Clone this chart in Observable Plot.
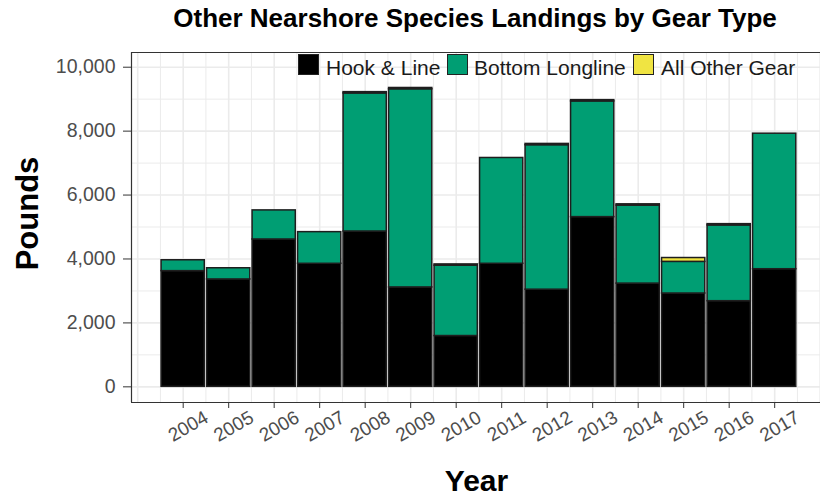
<!DOCTYPE html>
<html>
<head>
<meta charset="utf-8">
<script src="https://cdn.jsdelivr.net/npm/d3@7"></script>
<script src="https://cdn.jsdelivr.net/npm/@observablehq/plot@0.6"></script>
<style>
  body { margin: 0; background: #fff; font-family: "Liberation Sans", Arial, sans-serif; }
  #wrap { position: relative; width: 820px; height: 501px; overflow: hidden; }
  #title { position: absolute; left: 0; top: 5px; width: 950px; text-align: center;
           font-weight: bold; font-size: 26px; line-height: 26px; color: #000; white-space: nowrap; }
  .key { position: absolute; top: 54px; width: 21px; height: 21px; box-sizing: border-box; border: 1.5px solid #222; }
  .lab { position: absolute; top: 56.5px; font-size: 21px; line-height: 21px; color: #1a1a1a; white-space: nowrap; }
</style>
</head>
<body>
<div id="wrap">
  <div id="chart"></div>
  <div id="title">Other Nearshore Species Landings by Gear Type</div>
  <div id="legend"></div>
</div>
<script>
const years = [2004, 2005, 2006, 2007, 2008, 2009, 2010, 2011, 2012, 2013, 2014, 2015, 2016, 2017];
const gears = ["Hook & Line", "Bottom Longline", "All Other Gear"];
const gearColors = ["#000000", "#009E73", "#F0E442"];
const hookLine       = [3620, 3360, 4610, 3850, 4860, 3110, 1590, 3850, 3040, 5310, 3230, 2920, 2680, 3680];
const bottomLongline = [ 340,  350,  910,  990, 4320, 6200, 2200, 3310, 4520, 3620, 2440,  990, 2370, 4240];
const allOtherGear   = [   0,    0,    0,    0,   40,   40,   40,    0,   40,   40,   40,  120,   40,    0];
const yTicks = [0, 2000, 4000, 6000, 8000, 10000];

// build stacked table
const series = [hookLine, bottomLongline, allOtherGear];
const rows = [];
years.forEach((yr, i) => {
  let base = 0;
  gears.forEach((g, k) => {
    const v = series[k][i];
    if (v > 0) rows.push({year: yr, gear: g, pounds: v, y1: base, y2: base + v});
    base += v;
  });
});

const xMin = 2002.864, xMax = 2018.007;
const yMin = -490, yMax = 10460;
const halfYears = d3.range(2003, 2018.01, 0.5);
const thousands = d3.range(0, 10001, 1000);

const chart = Plot.plot({
  width: 820,
  height: 501,
  marginTop: 52,
  marginBottom: 99,
  marginLeft: 131,
  marginRight: 0,
  style: { fontFamily: "Liberation Sans, Arial, sans-serif", background: "#fff" },
  x: { type: "linear", domain: [xMin, xMax], label: null },
  y: { domain: [yMin, yMax], label: null },
  color: { domain: gears, range: gearColors },
  marks: [
    Plot.ruleY(thousands, { y: d => d, stroke: "#ebebeb", strokeWidth: d => d % 2000 === 0 ? 1.6 : 1 }),
    Plot.ruleX(halfYears, { x: d => d, stroke: "#ebebeb", strokeWidth: d => Number.isInteger(d) ? 1.6 : 1 }),
    Plot.rect(rows, {
      x1: d => d.year - 0.475, x2: d => d.year + 0.475,
      y1: "y1", y2: "y2", fill: "gear",
      stroke: "#1e1e1e", strokeWidth: 1.5
    }),
    Plot.ruleY([yMin, yMax], { stroke: "#333", strokeWidth: 1.2 }),
    Plot.ruleX([xMin], { stroke: "#333", strokeWidth: 1.2 }),
    Plot.axisY({ ticks: yTicks, tickFormat: d3.format(","), tickSize: 8, tickPadding: 8,
                 fontSize: 19.5, fill: "#4d4d4d", stroke: "#333", label: null }),
    Plot.axisX({ ticks: years, tickFormat: () => "", tickSize: 6, stroke: "#333", label: null }),
    Plot.text(years, { x: d => d, frameAnchor: "bottom", dy: 24, dx: 5, rotate: -30,
                       textAnchor: "middle", lineAnchor: "middle", fontSize: 19, fill: "#4d4d4d",
                       text: d => String(d) }),
    Plot.text(["Pounds"], { frameAnchor: "left", dx: -103.5, dy: -14, rotate: -90,
                            textAnchor: "middle", lineAnchor: "middle", fontSize: 31,
                            fontWeight: "bold", fill: "#000" }),
    Plot.text(["Year"], { frameAnchor: "bottom", dy: 79, dx: 0.5, textAnchor: "middle",
                          lineAnchor: "middle", fontSize: 30, fontWeight: "bold", fill: "#000" })
  ]
});
document.getElementById("chart").appendChild(chart);

// legend (inside the panel, top right)
const legend = document.getElementById("legend");
const keyLeft = [298, 447, 633];
const labLeft = [326, 474, 661];
gears.forEach((g, k) => {
  const box = document.createElement("div");
  box.className = "key";
  box.style.left = keyLeft[k] + "px";
  box.style.background = gearColors[k];
  legend.appendChild(box);
  const lab = document.createElement("div");
  lab.className = "lab";
  lab.style.left = labLeft[k] + "px";
  lab.textContent = g;
  legend.appendChild(lab);
});
</script>
</body>
</html>
